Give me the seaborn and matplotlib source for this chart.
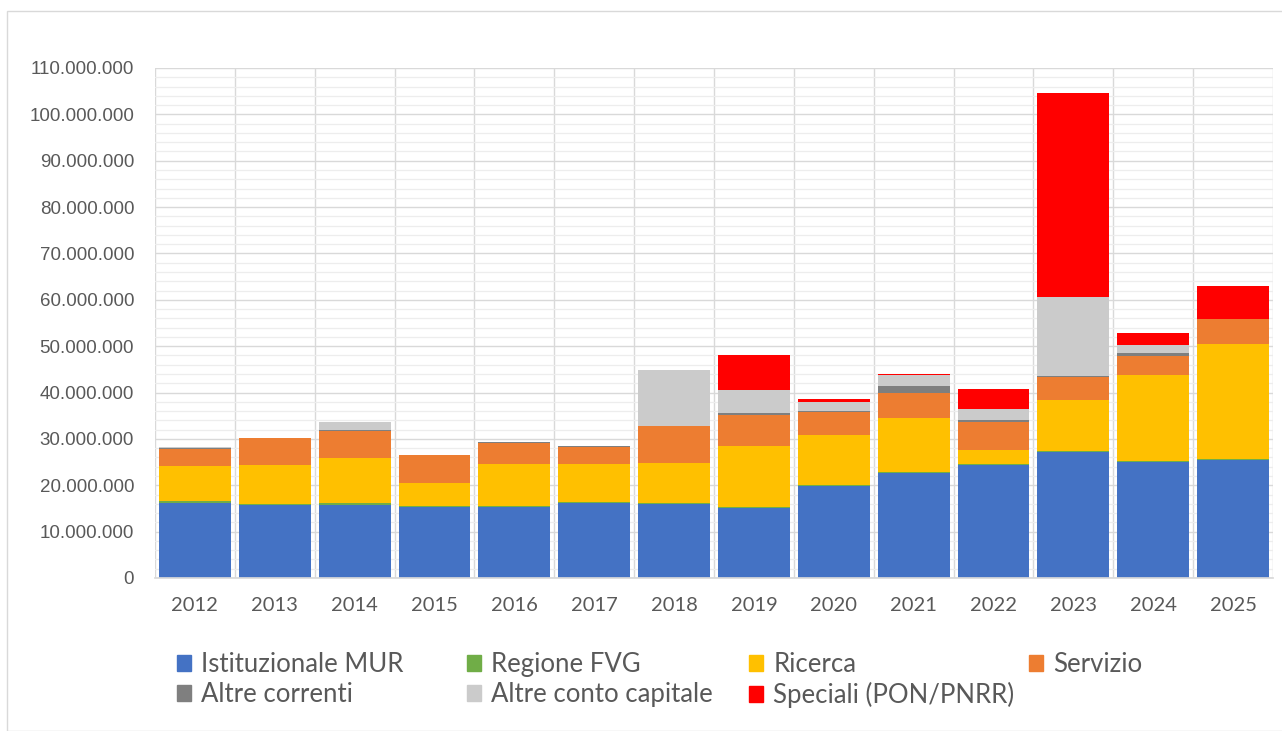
import matplotlib
matplotlib.use("Agg")
import matplotlib.pyplot as plt
from matplotlib.patches import Rectangle
from matplotlib.ticker import FuncFormatter, MultipleLocator
import numpy as np
import pandas as pd
import seaborn as sns

# anni e componenti (valori in euro)
years = ["2012", "2013", "2014", "2015", "2016", "2017", "2018",
         "2019", "2020", "2021", "2022", "2023", "2024", "2025"]
istituzionale_mur = [16.2e6, 15.7e6, 15.8e6, 15.3e6, 15.4e6, 16.2e6, 16.0e6,
                     15.2e6, 19.9e6, 22.6e6, 24.4e6, 27.2e6, 25.0e6, 25.5e6]
regione_fvg = [0.4e6, 0.3e6, 0.3e6, 0.2e6, 0.2e6, 0.1e6, 0.2e6,
               0.2e6, 0.2e6, 0.2e6, 0.15e6, 0.2e6, 0.15e6, 0.15e6]
ricerca = [7.6e6, 8.4e6, 9.7e6, 5.0e6, 8.9e6, 8.3e6, 8.5e6,
           13.1e6, 10.7e6, 11.8e6, 3.1e6, 10.9e6, 18.7e6, 24.9e6]
servizio = [3.7e6, 5.7e6, 6.0e6, 6.0e6, 4.6e6, 3.7e6, 8.1e6,
            6.6e6, 5.0e6, 5.4e6, 6.05e6, 5.1e6, 4.1e6, 5.4e6]
altre_correnti = [0.2e6, 0.2e6, 0.2e6, 0.0, 0.25e6, 0.2e6, 0.0,
                  0.4e6, 0.3e6, 1.5e6, 0.3e6, 0.2e6, 0.65e6, 0.0]
altre_capitale = [0.1e6, 0.0, 1.6e6, 0.0, 0.0, 0.0, 12.1e6,
                  5.0e6, 1.8e6, 2.35e6, 2.5e6, 17.0e6, 1.7e6, 0.0]
speciali = [0.0, 0.0, 0.0, 0.0, 0.0, 0.0, 0.0,
            7.6e6, 0.8e6, 0.2e6, 4.3e6, 44.1e6, 2.45e6, 7.0e6]

series = [
    ("Istituzionale MUR", istituzionale_mur, "#4472C4"),
    ("Regione FVG", regione_fvg, "#70AD47"),
    ("Ricerca", ricerca, "#FFC000"),
    ("Servizio", servizio, "#ED7D31"),
    ("Altre correnti", altre_correnti, "#7F7F7F"),
    ("Altre conto capitale", altre_capitale, "#CBCBCB"),
    ("Speciali (PON/PNRR)", speciali, "#FF0000"),
]

sns.set_theme(style="white")
plt.rcParams["font.family"] = ["Liberation Sans", "DejaVu Sans"]
narrow = ["Lato", "Liberation Sans", "DejaVu Sans"]

fig = plt.figure(figsize=(12.82, 7.31), dpi=100)
ax = fig.add_axes([155 / 1282, 1 - 578 / 731, 1118 / 1282, 510 / 731])

# excel-like grid: minor every 2M, major every 10M, vertical lines between categories
ax.set_axisbelow(True)
ax.yaxis.set_major_locator(MultipleLocator(10e6))
ax.yaxis.set_minor_locator(MultipleLocator(2e6))
ax.grid(axis="y", which="major", color="#D9D9D9", lw=1.0)
ax.grid(axis="y", which="minor", color="#EDEDED", lw=0.9)
for i in range(len(years) + 1):
    ax.axvline(i - 0.5, color="#D9D9D9", lw=1.0, zorder=0)

bottom = np.zeros(len(years))
for name, vals, col in series:
    df = pd.DataFrame({"anno": years, "valore": vals})
    sns.barplot(data=df, x="anno", y="valore", color=col, width=0.9,
                bottom=bottom, ax=ax, saturation=1, linewidth=0, zorder=2)
    bottom = bottom + np.array(vals)

ax.set_xlim(-0.5, len(years) - 0.5)
ax.set_ylim(0, 110e6)
ax.yaxis.set_major_formatter(FuncFormatter(lambda v, p: f"{int(round(v)):,}".replace(",", ".")))
ax.tick_params(axis="y", which="both", length=0, labelsize=13.5, labelcolor="#595959", pad=15)
ax.tick_params(axis="x", length=0, labelsize=14.5, labelcolor="#595959", pad=14)
for lab in ax.get_xticklabels():
    lab.set_family(narrow)
ax.set_xlabel("")
ax.set_ylabel("")
for s in ["top", "right", "left"]:
    ax.spines[s].set_visible(False)
ax.spines["bottom"].set_color("#D9D9D9")

# legend, 4 evenly spaced columns like excel
columns = [[0, 4], [1, 5], [2, 6], [3]]
col_x = [177, 467, 749, 1029]
for cx, idxs in zip(col_x, columns):
    handles = [Rectangle((0, 0), 1, 1, color=series[i][2]) for i in idxs]
    labels = [series[i][0] for i in idxs]
    leg = fig.legend(handles, labels, loc="upper left",
                     bbox_to_anchor=(cx / 1282, 1 - 652 / 731), frameon=False,
                     handlelength=0.55, handleheight=0.55, handletextpad=0.4,
                     labelspacing=0.2, borderpad=0, borderaxespad=0,
                     prop={"family": narrow, "size": 18.5})
    for t in leg.get_texts():
        t.set_color("#595959")

# chart area border
fig.patches.append(Rectangle((7 / 1282, 0), 1.5, 1 - 11 / 731, transform=fig.transFigure,
                             fill=False, edgecolor="#D9D9D9", lw=1.0))

fig.savefig("out.png", dpi=100)
